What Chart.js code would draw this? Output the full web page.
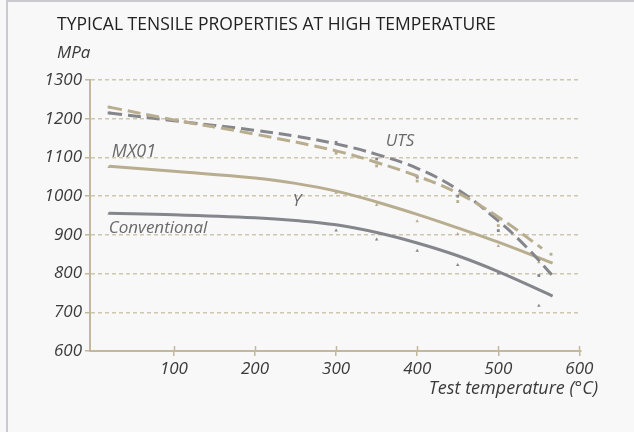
<!DOCTYPE html>
<html><head><meta charset="utf-8">
<script src="https://cdn.jsdelivr.net/npm/chart.js@4.4.1/dist/chart.umd.min.js"></script>
<style>
html,body{margin:0;padding:0;background:#f8f8f8;width:634px;height:432px;overflow:hidden}
#frame{position:absolute;left:6px;top:0;width:660px;height:460px;border-left:2px solid #cbcbcf;border-top:2px solid #cbcbcf;box-sizing:border-box}
#c{position:absolute;left:0;top:0}
</style></head><body>
<div id="frame"></div>
<canvas id="c" width="634" height="432"></canvas>
<script>
// ---- data ----
const xTicks = [100, 200, 300, 400, 500, 600];
const yTicks = [600, 700, 800, 900, 1000, 1100, 1200, 1300];

// fitted curves
const mx01UtsCurveT = [20, 100, 200, 300, 350, 400, 450, 500, 554];
const mx01UtsCurveV = [1230, 1197, 1160, 1117, 1087, 1052, 1008, 946, 865];
const convUtsCurveT = [20, 100, 200, 250, 300, 350, 400, 450, 500, 534, 566];
const convUtsCurveV = [1215, 1195, 1170, 1155, 1135, 1108, 1072, 1017, 936, 870, 797];
const mx01YCurveT = [20, 100, 200, 250, 300, 350, 400, 450, 500, 567];
const mx01YCurveV = [1077, 1064, 1047, 1033, 1013, 985, 953, 918, 881, 827];
const convYCurveT = [20, 100, 200, 250, 300, 350, 400, 450, 500, 567];
const convYCurveV = [956, 952, 944, 937, 926, 906, 879, 846, 805, 742];

// measured points
const mx01UtsPtT = [20, 300, 350, 400, 450, 500, 565];
const mx01UtsPtV = [1230, 1111, 1078, 1039, 986, 924, 850];
const convUtsPtT = [20, 300, 350, 400, 450, 500, 550];
const convUtsPtV = [1215, 1139, 1096, 1049, 1000, 911, 795];
const mx01YPtT = [20, 300, 350, 400, 450, 500, 550];
const mx01YPtV = [1075, 1009, 977, 935, 902, 871, 829];
const convYPtT = [20, 300, 350, 400, 450, 500, 550];
const convYPtV = [955, 911, 888, 859, 822, 800, 717];

const titleText = 'TYPICAL TENSILE PROPERTIES AT HIGH TEMPERATURE';
const yUnit = 'MPa';
const xTitle = 'Test temperature (\u00B0C)';

// ---- styles ----
const BEIGE = '#b8ad8f';
const GRAY = '#85868c';
const AXIS = '#c2b89c';
const GRID = '#cfc6ae';
const TXT = '#3a3a3a';
const LBL = '#6a6a6a';
const FAM = '"Open Sans", sans-serif';

const pts = (t, v) => t.map((x, i) => ({x: x, y: v[i]}));

function curve(t, v, color, dashed) {
  return {type: 'line', data: pts(t, v), borderColor: color, borderWidth: 3,
    borderDash: dashed ? [13, 6] : [], pointRadius: 0, fill: false,
    tension: 0.4, order: 1};
}
function marks(t, v, color, style) {
  return {type: 'scatter', data: pts(t, v), showLine: false, pointStyle: style,
    pointRadius: 2, backgroundColor: color, borderColor: color, borderWidth: 0, order: 2};
}

const textPlugin = {
  id: 'texts',
  afterDraw(chart) {
    const ctx = chart.ctx;
    const xs = chart.scales.x;
    ctx.save();
    // upward halves of x tick marks
    ctx.strokeStyle = AXIS; ctx.lineWidth = 1.5;
    xTicks.forEach(v => {
      const px = Math.round(xs.getPixelForValue(v)) + 0.5;
      ctx.beginPath(); ctx.moveTo(px, xs.top - 5); ctx.lineTo(px, xs.top); ctx.stroke();
    });
    ctx.fillStyle = '#222';
    ctx.textBaseline = 'middle';
    ctx.textAlign = 'left';
    ctx.font = '17.5px ' + FAM;
    ctx.fillText(titleText, 57, 25);
    ctx.fillStyle = TXT;
    ctx.font = 'italic 17px ' + FAM;
    ctx.fillText(yUnit, 57, 53);
    ctx.textAlign = 'right';
    ctx.font = 'italic 18px ' + FAM;
    ctx.fillText(xTitle, 598, 389);
    ctx.fillStyle = LBL;
    ctx.textAlign = 'center';
    ctx.font = 'italic 18px ' + FAM;
    ctx.fillText('MX01', 134, 152);
    ctx.font = 'italic 17px ' + FAM;
    ctx.fillText('Conventional', 158, 228);
    ctx.fillText('Y', 297, 201);
    ctx.fillText('UTS', 400, 141);
    ctx.restore();
  }
};

new Chart(document.getElementById('c'), {
  data: {
    datasets: [
      curve(mx01UtsCurveT, mx01UtsCurveV, BEIGE, true),
      curve(convUtsCurveT, convUtsCurveV, GRAY, true),
      curve(mx01YCurveT, mx01YCurveV, BEIGE, false),
      curve(convYCurveT, convYCurveV, GRAY, false),
      marks(mx01UtsPtT, mx01UtsPtV, BEIGE, 'rect'),
      marks(convUtsPtT, convUtsPtV, GRAY, 'rect'),
      marks(mx01YPtT, mx01YPtV, BEIGE, 'triangle'),
      marks(convYPtT, convYPtV, GRAY, 'triangle')
    ]
  },
  options: {
    responsive: false, animation: false, devicePixelRatio: 1,
    layout: {padding: {left: 0, top: 80, right: 53, bottom: 0}},
    plugins: {legend: {display: false}, tooltip: {enabled: false}, title: {display: false}},
    scales: {
      x: {
        type: 'linear', min: -3.5, max: 602,
        afterBuildTicks: s => { s.ticks = xTicks.map(v => ({value: v})); },
        afterFit: s => { s.height = 81; },
        grid: {drawOnChartArea: false, drawTicks: true, tickLength: 5, color: AXIS, lineWidth: 1.5},
        border: {color: AXIS, width: 2},
        ticks: {font: {family: FAM, size: 17, style: 'italic'}, color: TXT, padding: 3,
          maxRotation: 0, autoSkip: false, callback: v => String(v)}
      },
      y: {
        type: 'linear', min: 600, max: 1300,
        afterBuildTicks: s => { s.ticks = yTicks.map(v => ({value: v})); },
        afterFit: s => { s.width = 90; },
        grid: {color: c => (c.tick && c.tick.value === 600) ? 'rgba(0,0,0,0)' : GRID,
          lineWidth: 1.5, tickLength: 5, tickColor: AXIS, tickBorderDash: []},
        border: {color: AXIS, width: 2, dash: [4, 3]},
        ticks: {font: {family: FAM, size: 17, style: 'italic'}, color: TXT, padding: 3,
          autoSkip: false, callback: v => String(v)}
      }
    }
  },
  plugins: [textPlugin]
});
</script>
</body></html>
